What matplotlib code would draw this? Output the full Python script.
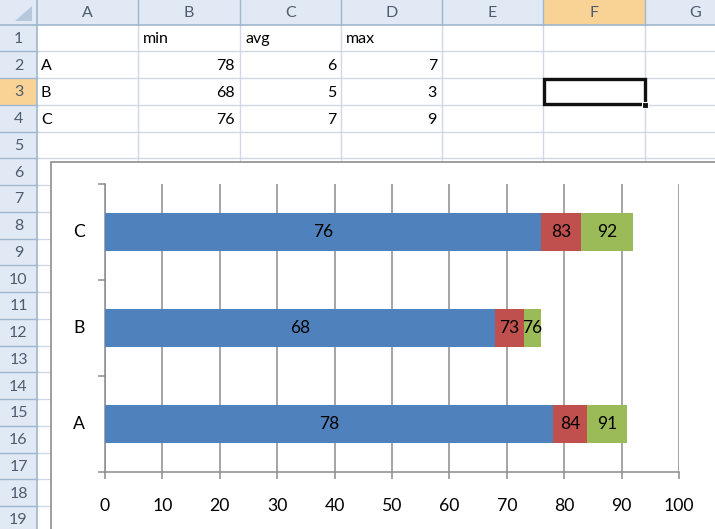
import matplotlib
matplotlib.use("Agg")
from matplotlib import pyplot as plt
from matplotlib.patches import Rectangle, Polygon
from matplotlib.transforms import blended_transform_factory

# data, as it sits in the sheet
categories = ["A", "B", "C"]
min_vals = [78, 68, 76]
avg_vals = [6, 5, 7]
max_vals = [7, 3, 9]
series_names = ["min", "avg", "max"]
series_colors = ["#4F81BD", "#C0504D", "#9BBB59"]
col_letters = ["A", "B", "C", "D", "E", "F", "G"]
x_ticks = list(range(0, 101, 10))

plt.rcParams['font.family'] = ['Lato', 'DejaVu Sans']

W, H = 715, 529
fig = plt.figure(figsize=(W / 100, H / 100), dpi=100)

# the worksheet is drawn in pixel coordinates
sheet = fig.add_axes([0, 0, 1, 1])
sheet.set_xlim(0, W)
sheet.set_ylim(H, 0)
sheet.axis('off')

hdr_w = 37
hdr_h = 24.5
row_h = 26.75
col_x = [37, 138, 240, 341, 442, 543, 645, 746]
n_rows = 20
row_y = [hdr_h + row_h * k for k in range(n_rows + 1)]

grid_c = '#D0D7E5'
hdr_fill = '#E1E9F5'
hdr_line = '#9EB6CE'
hdr_text = '#4F5B6E'
sel_fill = '#F9D396'
sel_col = 5   # column F
sel_row = 3

# cell gridlines
for x in col_x[1:]:
    sheet.plot([x, x], [hdr_h, H], color=grid_c, lw=1, zorder=1)
for y in row_y[1:]:
    sheet.plot([hdr_w, W], [y, y], color=grid_c, lw=1, zorder=1)

# headers
sheet.add_patch(Rectangle((0, 0), W, hdr_h, facecolor=hdr_fill, edgecolor='none', zorder=2))
sheet.add_patch(Rectangle((0, 0), hdr_w, H, facecolor=hdr_fill, edgecolor='none', zorder=2))
sheet.add_patch(Rectangle((col_x[sel_col], 0), col_x[sel_col + 1] - col_x[sel_col], hdr_h,
                          facecolor=sel_fill, edgecolor='none', zorder=2))
sheet.add_patch(Rectangle((0, row_y[sel_row - 1]), hdr_w, row_h,
                          facecolor=sel_fill, edgecolor='none', zorder=2))
sheet.add_patch(Polygon([[hdr_w - 5, 6], [hdr_w - 5, hdr_h - 4], [hdr_w - 22, hdr_h - 4]],
                        closed=True, facecolor='#B8C8DC', edgecolor='none', zorder=3))
sheet.plot([0, W], [hdr_h, hdr_h], color=hdr_line, lw=1.2, zorder=3)
sheet.plot([hdr_w, hdr_w], [0, H], color=hdr_line, lw=1.2, zorder=3)
for x in col_x[1:]:
    sheet.plot([x, x], [0, hdr_h], color=hdr_line, lw=1, zorder=3)
for y in row_y[1:]:
    sheet.plot([0, hdr_w], [y, y], color=hdr_line, lw=1, zorder=3)

for i, letter in enumerate(col_letters):
    xc = (col_x[i] + col_x[i + 1]) / 2
    sheet.text(xc, hdr_h / 2 + 1, letter, ha='center', va='center',
               fontsize=11.5, color=hdr_text, zorder=4)
for r in range(1, n_rows + 1):
    yc = (row_y[r - 1] + row_y[r]) / 2
    sheet.text(hdr_w / 2, yc + 1, str(r), ha='center', va='center',
               fontsize=11.5, color=hdr_text, zorder=4)

# cell contents
def cell_y(r):
    return (row_y[r - 1] + row_y[r]) / 2 + 1.5

for j, name in enumerate(series_names):
    sheet.text(col_x[j + 1] + 5, cell_y(1), name, ha='left', va='center',
               fontsize=11.5, color='black', zorder=4)
for i, cat in enumerate(categories):
    r = i + 2
    sheet.text(col_x[0] + 4, cell_y(r), cat, ha='left', va='center',
               fontsize=11.5, color='black', zorder=4)
    for j, vals in enumerate([min_vals, avg_vals, max_vals]):
        sheet.text(col_x[j + 2] - 5, cell_y(r), str(vals[i]), ha='right', va='center',
                   fontsize=11.5, color='black', zorder=4)

# active cell F3
sheet.add_patch(Rectangle((col_x[sel_col] + 0.5, row_y[sel_row - 1] + 0.5),
                          col_x[sel_col + 1] - col_x[sel_col] - 1, row_h - 1,
                          facecolor='none', edgecolor='#111111', lw=2.4, zorder=5))
sheet.add_patch(Rectangle((col_x[sel_col + 1] - 3, row_y[sel_row] - 3), 6, 6,
                          facecolor='#111111', edgecolor='white', lw=0.8, zorder=6))

# chart object frame
sheet.add_patch(Rectangle((51, 162), W, H, facecolor='white', edgecolor='#8E8E8E',
                          lw=1.2, zorder=7))

# the chart itself
ax = fig.add_axes([105 / W, (H - 472) / H, 574 / W, 288 / H])
ax.set_facecolor('none')
ypos = list(range(len(categories)))
lefts = [0] * len(categories)
for vals, color in zip([min_vals, avg_vals, max_vals], series_colors):
    ax.barh(ypos, vals, left=lefts, height=0.4, color=color, zorder=3)
    for k in ypos:
        total = lefts[k] + vals[k]
        ax.text(lefts[k] + vals[k] / 2, k, str(total), ha='center', va='center',
                fontsize=12.5, color='black', zorder=4)
    lefts = [a + b for a, b in zip(lefts, vals)]

axis_c = '#8C8C8C'
ax.set_xlim(0, 100)
ax.set_ylim(-0.5, len(categories) - 0.5)
ax.set_xticks(x_ticks)
ax.set_yticks([k - 0.5 for k in range(len(categories) + 1)])
ax.set_yticklabels([])
ax.xaxis.grid(True, color=axis_c, lw=1.1)
ax.set_axisbelow(True)
ax.tick_params(axis='both', direction='out', length=5, width=1.1, color=axis_c)
ax.tick_params(axis='x', pad=14, labelsize=12.7, labelcolor='black')
for side in ['top', 'right']:
    ax.spines[side].set_visible(False)
for side in ['left', 'bottom']:
    ax.spines[side].set_color(axis_c)
    ax.spines[side].set_linewidth(1.1)

trans = blended_transform_factory(ax.transAxes, ax.transData)
for k, cat in enumerate(categories):
    ax.text(-26 / 574, k, cat, transform=trans, ha='center', va='center',
            fontsize=12.7, color='black')

fig.savefig("out.png", dpi=100)
